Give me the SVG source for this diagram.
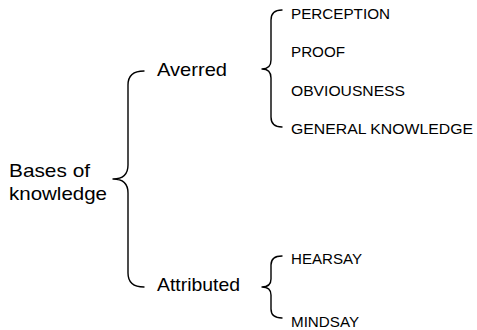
<svg xmlns="http://www.w3.org/2000/svg" width="477" height="330" viewBox="0 0 477 330">
  <style>
    .big { font-family: "Liberation Sans", Arial, sans-serif; font-size: 18.5px; fill: #000; }
    .small { font-family: "Liberation Sans", Arial, sans-serif; font-size: 15px; fill: #000; }
    .brace { fill: none; stroke: #000; stroke-width: 1.4; stroke-linecap: round; stroke-linejoin: round; }
  </style>
  <rect width="477" height="330" fill="#fff"/>

  <!-- curly braces linking each level to the next -->
  <g id="connectors">
    <path class="brace" d="M144,71 Q128,71 128,85 L128,165 Q128,179 113,179 Q128,179 128,193 L128,273 Q128,287 144,287"/>
    <path class="brace" d="M282,10 Q271,10 271,20 L271,60 Q271,69 262,69 Q271,69 271,78 L271,117 Q271,127 282,127"/>
    <path class="brace" d="M282,256 Q271,256 271,265 L271,279 Q271,287 262,287 Q271,287 271,295 L271,309 Q271,318 282,318"/>
  </g>

  <g id="root">
    <text class="big" x="9" y="177" textLength="81" lengthAdjust="spacingAndGlyphs">Bases of</text>
    <text class="big" x="9" y="200" textLength="98" lengthAdjust="spacingAndGlyphs">knowledge</text>
  </g>
  <g id="averred">
    <text class="big" x="157" y="76" textLength="70" lengthAdjust="spacingAndGlyphs">Averred</text>
  </g>
  <g id="attributed">
    <text class="big" x="157" y="291" textLength="83" lengthAdjust="spacingAndGlyphs">Attributed</text>
  </g>
  <g id="perception">
    <text class="small" x="291" y="19" textLength="99" lengthAdjust="spacingAndGlyphs">PERCEPTION</text>
  </g>
  <g id="proof">
    <text class="small" x="291" y="57" textLength="54" lengthAdjust="spacingAndGlyphs">PROOF</text>
  </g>
  <g id="obviousness">
    <text class="small" x="291" y="96" textLength="114" lengthAdjust="spacingAndGlyphs">OBVIOUSNESS</text>
  </g>
  <g id="general-knowledge">
    <text class="small" x="291" y="134" textLength="182" lengthAdjust="spacingAndGlyphs">GENERAL KNOWLEDGE</text>
  </g>
  <g id="hearsay">
    <text class="small" x="291" y="264" textLength="71" lengthAdjust="spacingAndGlyphs">HEARSAY</text>
  </g>
  <g id="mindsay">
    <text class="small" x="291" y="327" textLength="68" lengthAdjust="spacingAndGlyphs">MINDSAY</text>
  </g>
</svg>
